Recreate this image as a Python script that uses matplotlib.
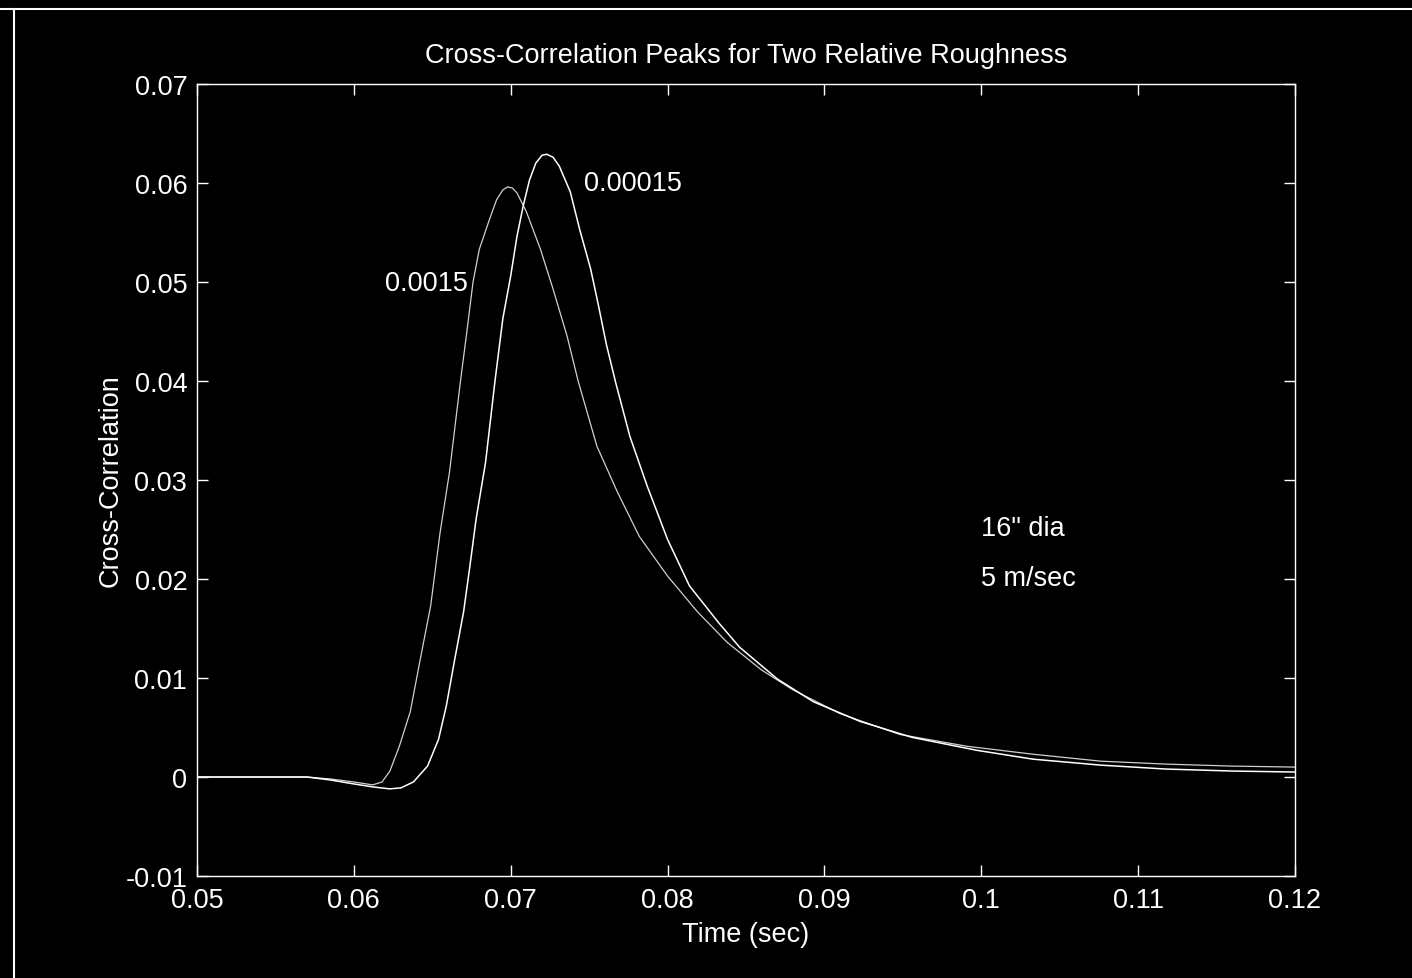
import matplotlib
matplotlib.use("Agg")
import matplotlib.pyplot as plt
from matplotlib.lines import Line2D

# cross-correlation vs time, relative roughness 0.0015
time_rough = [0.050, 0.055, 0.057, 0.0585, 0.0600, 0.0612, 0.0618, 0.0623,
              0.0629, 0.0636, 0.0642, 0.0649, 0.0655, 0.0661, 0.0668, 0.0672,
              0.0676, 0.0680, 0.0686, 0.0691, 0.0695, 0.0698, 0.0701, 0.0704,
              0.0710, 0.0719, 0.0727, 0.0736, 0.0743, 0.0755, 0.0768, 0.0782,
              0.0800, 0.0819, 0.0838, 0.0860, 0.0880, 0.0910, 0.0948, 0.0991,
              0.1033, 0.1076, 0.1118, 0.1160, 0.1200]
corr_rough = [0.0000, 0.0000, 0.0000, -0.0002, -0.0005, -0.0008, -0.0005, 0.0006,
              0.0031, 0.0066, 0.0116, 0.0173, 0.0247, 0.0308, 0.0400, 0.0449,
              0.0500, 0.0533, 0.0561, 0.0583, 0.0593, 0.0596, 0.0595, 0.0590,
              0.0571, 0.0533, 0.0493, 0.0445, 0.0400, 0.0334, 0.0288, 0.0243,
              0.0203, 0.0167, 0.0136, 0.0108, 0.0088, 0.0064, 0.0043, 0.0031,
              0.0023, 0.0016, 0.0013, 0.0011, 0.0010]

# relative roughness 0.00015
time_smooth = [0.050, 0.055, 0.057, 0.0585, 0.0600, 0.0612, 0.0623, 0.0630,
               0.0638, 0.0647, 0.0654, 0.0659, 0.0664, 0.0670, 0.0674, 0.0678,
               0.0684, 0.0690, 0.0695, 0.0700, 0.0704, 0.0708, 0.0712, 0.0716,
               0.0720, 0.0723, 0.0727, 0.0731, 0.0738, 0.0744, 0.0751, 0.0756,
               0.0761, 0.0767, 0.0776, 0.0787, 0.0800, 0.0814, 0.0833, 0.0846,
               0.0870, 0.0893, 0.0923, 0.0956, 0.0997, 0.1033, 0.1076, 0.1118,
               0.1160, 0.1200]
corr_smooth = [0.0000, 0.0000, 0.0000, -0.0003, -0.0007, -0.0010, -0.0012, -0.0011,
               -0.0005, 0.0011, 0.0038, 0.0072, 0.0116, 0.0167, 0.0213, 0.0261,
               0.0318, 0.0400, 0.0463, 0.0506, 0.0546, 0.0577, 0.0603, 0.0620,
               0.0628, 0.0629, 0.0626, 0.0617, 0.0591, 0.0553, 0.0513, 0.0476,
               0.0437, 0.0398, 0.0344, 0.0294, 0.0240, 0.0193, 0.0155, 0.0131,
               0.0099, 0.0076, 0.0056, 0.0040, 0.0027, 0.0018, 0.0012, 0.0008,
               0.0006, 0.0005]

x_ticks = [0.05, 0.06, 0.07, 0.08, 0.09, 0.1, 0.11, 0.12]
x_labels = ["0.05", "0.06", "0.07", "0.08", "0.09", "0.1", "0.11", "0.12"]
y_ticks = [-0.01, 0, 0.01, 0.02, 0.03, 0.04, 0.05, 0.06, 0.07]
y_labels = ["-0.01", "0", "0.01", "0.02", "0.03", "0.04", "0.05", "0.06", "0.07"]

plt.rcParams["font.family"] = ["Liberation Sans", "DejaVu Sans"]
fg = "white"
fs = 19.5

fig = plt.figure(figsize=(14.12, 9.79), dpi=100, facecolor="black")
ax = fig.add_axes([0.1395, 0.1042, 0.7776, 0.8090], facecolor="black")

ax.plot(time_rough, corr_rough, color="#d0d0d0", lw=0.9)
ax.plot(time_smooth, corr_smooth, color=fg, lw=1.1)

ax.set_xlim(0.05, 0.12)
ax.set_ylim(-0.01, 0.07)
ax.set_xticks(x_ticks)
ax.set_xticklabels(x_labels)
ax.set_yticks(y_ticks)
ax.set_yticklabels(y_labels)
ax.tick_params(direction="in", length=8, width=1, colors=fg, labelsize=fs,
               top=True, right=True, pad=8)
ax.tick_params(axis="y", pad=7)
for sp in ax.spines.values():
    sp.set_color(fg)
    sp.set_linewidth(1.0)

ax.set_title("Cross-Correlation Peaks for Two Relative Roughness",
             color=fg, fontsize=fs, pad=16)
ax.set_xlabel("Time (sec)", color=fg, fontsize=fs, labelpad=6)
ax.set_ylabel("Cross-Correlation", color=fg, fontsize=fs, labelpad=1)

ax.text(0.0747, 0.0600, "0.00015", color=fg, fontsize=fs, va="center")
ax.text(0.0620, 0.0499, "0.0015", color=fg, fontsize=fs, va="center")
ax.text(0.1000, 0.0252, "16\" dia", color=fg, fontsize=fs, va="center")
ax.text(0.1000, 0.0201, "5 m/sec", color=fg, fontsize=fs, va="center")

# page edge lines along the top and left
fig.add_artist(Line2D([0, 1], [0.990, 0.990], color=fg, lw=1.5,
                      transform=fig.transFigure))
fig.add_artist(Line2D([0.010, 0.010], [0, 0.990], color=fg, lw=1.5,
                      transform=fig.transFigure))

fig.savefig("out.png", dpi=100, facecolor="black")
